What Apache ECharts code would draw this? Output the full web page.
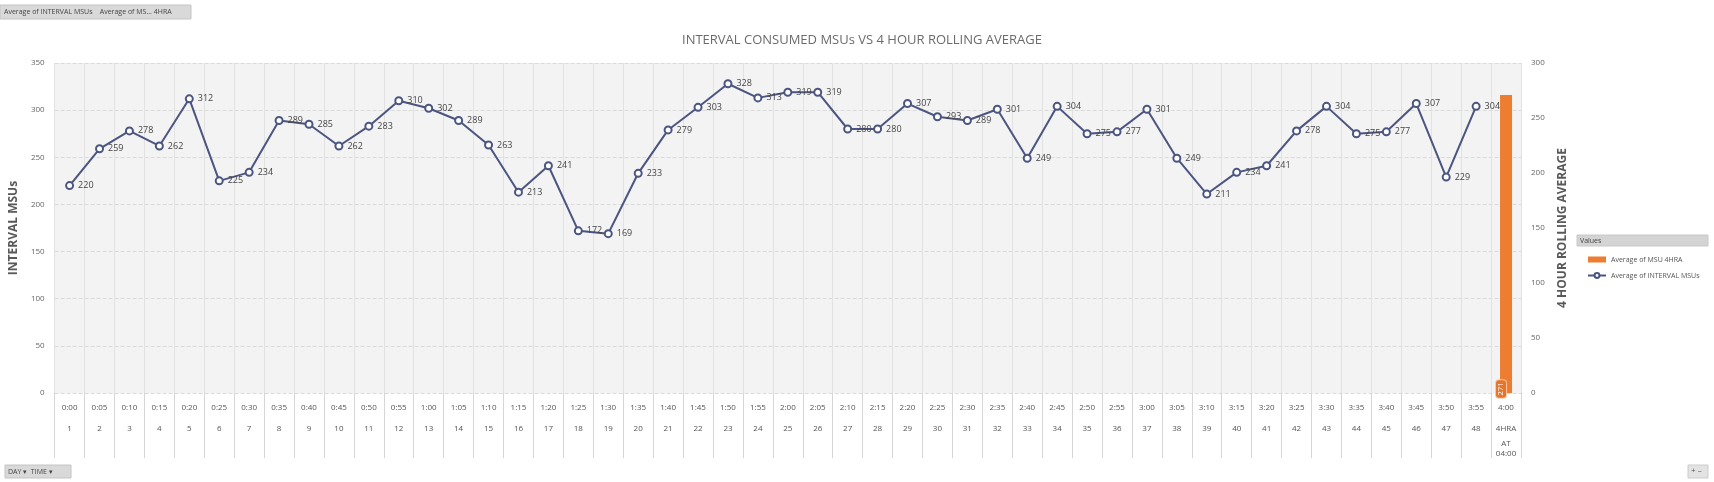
<!DOCTYPE html>
<html><head><meta charset="utf-8">
<script src="https://cdn.jsdelivr.net/npm/echarts@6/dist/echarts.min.js"></script>
<style>html,body{margin:0;padding:0;background:#fff;}#c{width:1714px;height:482px;}</style>
</head><body><div id="c"></div>
<script>
var timeLabels = ['0:00','0:05','0:10','0:15','0:20','0:25','0:30','0:35','0:40','0:45','0:50','0:55',
  '1:00','1:05','1:10','1:15','1:20','1:25','1:30','1:35','1:40','1:45','1:50','1:55',
  '2:00','2:05','2:10','2:15','2:20','2:25','2:30','2:35','2:40','2:45','2:50','2:55',
  '3:00','3:05','3:10','3:15','3:20','3:25','3:30','3:35','3:40','3:45','3:50','3:55','4:00'];
var indexLabels = ['1','2','3','4','5','6','7','8','9','10','11','12','13','14','15','16','17','18','19','20',
  '21','22','23','24','25','26','27','28','29','30','31','32','33','34','35','36','37','38','39','40',
  '41','42','43','44','45','46','47','48','4HRA AT 04:00'];
var intervalMSUs = [220,259,278,262,312,225,234,289,285,262,283,310,302,289,263,213,241,172,169,233,
  279,303,328,313,319,319,280,280,307,293,289,301,249,304,275,277,301,249,211,234,
  241,278,304,275,277,307,229,304,null];
var msu4HRA = [null,null,null,null,null,null,null,null,null,null,null,null,null,null,null,null,null,null,null,null,
  null,null,null,null,null,null,null,null,null,null,null,null,null,null,null,null,null,null,null,null,
  null,null,null,null,null,null,null,null,271];
var leftTicks = [0,50,100,150,200,250,300,350];
var rightTicks = [0,50,100,150,200,250,300];

var FF = "'Liberation Sans Narrow','Open Sans',sans-serif";
var categories = timeLabels.map(function(t,i){ return t + '|' + indexLabels[i]; });

var chart = echarts.init(document.getElementById('c'));
chart.setOption({
  animation:false,
  backgroundColor:'#ffffff',
  title:{text:'INTERVAL CONSUMED MSUs VS 4 HOUR ROLLING AVERAGE', left:857, textAlign:'center', top:29,
    textStyle:{fontFamily:FF, fontSize:13, fontWeight:'normal', color:'#6b6b6b'}},
  grid:{left:51, right:193, top:63, bottom:89, show:true, backgroundColor:'#f3f3f3', borderWidth:0},
  legend:{orient:'vertical', left:1582, top:251, itemGap:9, itemWidth:18, itemHeight:6,
    textStyle:{fontFamily:FF, fontSize:7, color:'#555'},
    data:[{name:'Average of MSU 4HRA', icon:'rect'},{name:'Average of INTERVAL MSUs'}]},
  xAxis:{type:'category', data:categories, boundaryGap:true,
    axisLine:{show:false},
    axisTick:{show:true, interval:0, length:65, lineStyle:{color:'#d6d6d6'}},
    splitLine:{show:true, interval:0, lineStyle:{color:'#e2e2e2', width:1}},
    axisLabel:{interval:0, margin:4, verticalAlign:'top',
      formatter:function(v){
        var p = v.split('|');
        var n = p[1].split(' ');
        if(n.length > 1){
          return '{t|' + p[0] + '}\n{n|' + n[0] + '}\n{s|' + n[1] + '}\n{u|' + n[2] + '}';
        }
        return '{t|' + p[0] + '}\n{n|' + p[1] + '}';
      },
      rich:{
        t:{fontFamily:FF, fontSize:8, color:'#555', lineHeight:21},
        n:{fontFamily:FF, fontSize:8, color:'#555', lineHeight:21},
        s:{fontFamily:FF, fontSize:8, color:'#555', lineHeight:9},
        u:{fontFamily:FF, fontSize:8, color:'#555', lineHeight:12}
      }}
  },
  yAxis:[
    {type:'value', min:0, max:350, interval:50, name:'INTERVAL MSUs', nameLocation:'middle', nameGap:31,
      nameTextStyle:{fontFamily:FF, fontSize:12, fontWeight:'bold', color:'#595959'},
      axisLine:{show:false}, axisTick:{show:false},
      axisLabel:{fontFamily:FF, fontSize:8, color:'#666', margin:10},
      splitLine:{lineStyle:{color:'#dadada', type:'dashed', width:1}}},
    {type:'value', min:0, max:300, interval:50, name:'4 HOUR ROLLING AVERAGE', nameLocation:'middle', nameGap:36,
      nameRotate:90,
      nameTextStyle:{fontFamily:FF, fontSize:12, fontWeight:'bold', color:'#595959'},
      axisLine:{show:false}, axisTick:{show:false},
      axisLabel:{fontFamily:FF, fontSize:8, color:'#666', margin:10},
      splitLine:{show:false}}
  ],
  series:[
    {name:'Average of MSU 4HRA', type:'bar', yAxisIndex:1, data:msu4HRA, barWidth:12, barGap:'-100%',
      itemStyle:{color:'#ed7d31'},
      label:{show:true, position:'insideBottom', rotate:90, distance:4, fontFamily:FF, fontSize:8, color:'#fff',
        backgroundColor:'#e8742a', borderColor:'#f7c9a8', borderWidth:1, borderRadius:3, padding:[1,2]}},
    {name:'Average of INTERVAL MSUs', type:'line', yAxisIndex:0, data:intervalMSUs,
      symbol:'emptyCircle', symbolSize:7, connectNulls:false,
      lineStyle:{color:'#4b5580', width:2}, itemStyle:{color:'#4b5580', borderWidth:1.3},
      label:{show:true, position:'right', distance:4, fontFamily:FF, fontSize:9, color:'#444'}}
  ],
  graphic:[
    {type:'rect', shape:{x:0,y:5,width:191,height:14}, style:{fill:'#d9d9d9', stroke:'#c4c4c4'}},
    {type:'text', x:4, y:8, style:{text:'Average of INTERVAL MSUs    Average of MS... 4HRA', font:'7px '+FF, fill:'#444'}},
    {type:'rect', shape:{x:1577,y:235,width:131,height:11}, style:{fill:'#d4d4d4', stroke:'#c8c8c8'}},
    {type:'text', x:1580, y:237, style:{text:'Values', font:'7px '+FF, fill:'#444'}},
    {type:'rect', shape:{x:5,y:465,width:66,height:13}, style:{fill:'#d9d9d9', stroke:'#c4c4c4'}},
    {type:'text', x:8, y:468, style:{text:'DAY \u25BE  TIME \u25BE', font:'7px '+FF, fill:'#444'}},
    {type:'rect', shape:{x:1688,y:465,width:20,height:13}, style:{fill:'#e3e3e3', stroke:'#cccccc'}},
    {type:'text', x:1691, y:467, style:{text:'+ \u2013', font:'8px '+FF, fill:'#555'}}
  ]
});
</script></body></html>
